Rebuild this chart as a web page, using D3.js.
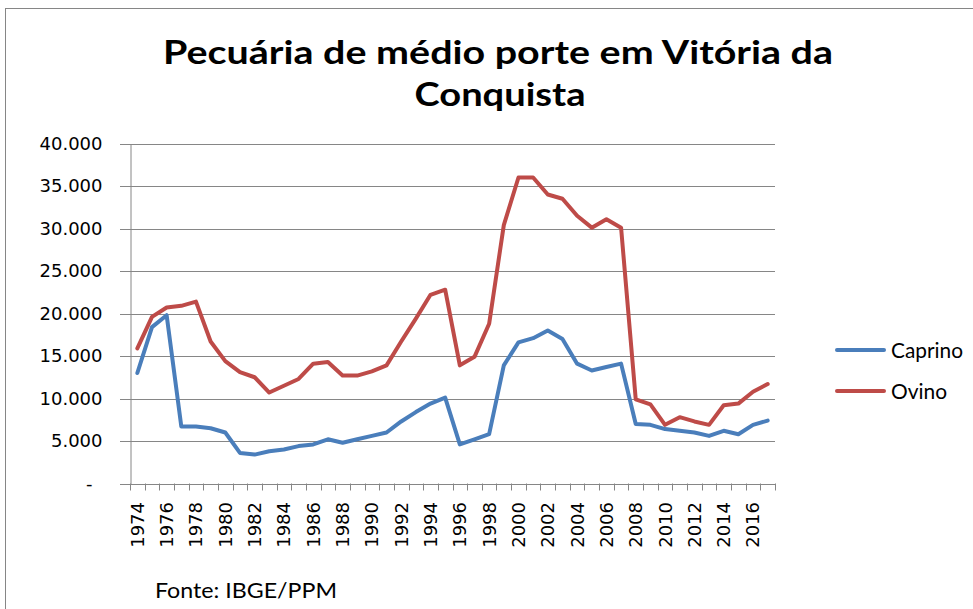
<!DOCTYPE html>
<html><head><meta charset="utf-8">
<script src="https://cdn.jsdelivr.net/npm/d3@7/dist/d3.min.js"></script>
<style>body{margin:0;background:#fff}svg{display:block}</style>
</head><body>
<svg id="c" width="973" height="609"></svg>
<script>
const years = d3.range(1974, 2018);
const caprino = [13000,18400,19800,6700,6700,6500,6000,3600,3400,3800,4000,4400,4600,5200,4800,5200,5600,6000,7300,8400,9400,10100,4600,5200,5800,13900,16600,17100,18000,17000,14100,13300,13700,14100,7000,6900,6400,6200,6000,5600,6200,5800,6900,7400];
const ovino = [15900,19600,20700,20900,21400,16700,14400,13100,12500,10700,11500,12300,14100,14300,12700,12700,13200,13900,16700,19400,22200,22800,13900,14900,18800,30400,36000,36000,34000,33500,31500,30100,31100,30100,9900,9300,6900,7800,7300,6900,9200,9400,10800,11700];
const yTicks = [0,5000,10000,15000,20000,25000,30000,35000,40000];
const seriesNames = ["Caprino","Ovino"];
const colors = ["#4A7EBB","#BE4B48"];

const svg = d3.select("#c");
const font = "Lato, 'Open Sans', 'Liberation Sans', sans-serif";
const tickFont = "'DejaVu Sans', Verdana, sans-serif";

// outer border
svg.append("rect").attr("x",5.5).attr("y",8.5).attr("width",1000).attr("height",700)
  .attr("fill","#fff").attr("stroke","#868686").attr("stroke-width",1);

const L=130, R=775, T=143.5, B=483.5;
const x = d3.scaleBand().domain(years).range([L,R]);
const y = d3.scaleLinear().domain([0,40000]).range([B,T]);

// gridlines
svg.append("g").selectAll("line").data(yTicks).join("line")
  .attr("x1",L-10).attr("x2",R).attr("y1",d=>Math.round(y(d))+0.5).attr("y2",d=>Math.round(y(d))+0.5)
  .attr("stroke","#868686").attr("stroke-width",1);

// y axis
const yAx = svg.append("g").attr("transform",`translate(${L+0.5},0)`)
  .call(d3.axisLeft(y).tickValues(yTicks).tickSize(0).tickPadding(28)
    .tickFormat(d=> d===0 ? "-" : d3.format(",")(d).replace(/,/g,".")));
yAx.select(".domain").attr("stroke","#868686");
yAx.selectAll("text").attr("font-family",tickFont).attr("font-size",18).attr("fill","#000");
yAx.selectAll(".tick text").filter(d=>d===0).attr("dx",-10);

// x axis
const xAx = svg.append("g").attr("transform",`translate(0,${B+0.5})`)
  .call(d3.axisBottom(x).tickValues(years.filter(d=>d%2===0)).tickSize(0).tickFormat(d=>d));
xAx.select(".domain").attr("stroke","#868686");
xAx.selectAll(".tick text").attr("font-family",tickFont).attr("font-size",18).attr("fill","#000")
  .attr("transform","rotate(-90)").attr("text-anchor","end").attr("x",-18).attr("y",0).attr("dy","0.36em");
// tick marks between categories
svg.append("g").selectAll("line").data(d3.range(years.length+1)).join("line")
  .attr("x1",i=>Math.round(L+i*x.step())+0.5).attr("x2",i=>Math.round(L+i*x.step())+0.5)
  .attr("y1",B).attr("y2",B+7).attr("stroke","#868686");

// lines
const data = [caprino, ovino];
const line = d3.line().x((d,i)=>x(years[i])+x.bandwidth()/2).y(d=>y(d));
data.forEach((s,k)=>{
  svg.append("path").datum(s).attr("d",line).attr("fill","none")
    .attr("stroke",colors[k]).attr("stroke-width",4).attr("stroke-linejoin","round").attr("stroke-linecap","round");
});

// legend
const leg = svg.append("g");
const legLen = [72,56];
seriesNames.forEach((n,k)=>{
  const ly = [350,391][k];
  leg.append("line").attr("x1",837).attr("x2",884).attr("y1",ly).attr("y2",ly)
    .attr("stroke",colors[k]).attr("stroke-width",4).attr("stroke-linecap","round");
  leg.append("text").attr("x",891).attr("y",ly+7.5).text(n)
    .attr("font-family",font).attr("font-size",21).attr("fill","#000")
    .attr("textLength",legLen[k]).attr("lengthAdjust","spacingAndGlyphs");
});

// title
svg.append("text").attr("x",498).attr("y",64).attr("text-anchor","middle")
  .attr("font-family",font).attr("font-weight","bold").attr("font-size",33)
  .attr("textLength",670).attr("lengthAdjust","spacingAndGlyphs")
  .text("Pecuária de médio porte em Vitória da");
svg.append("text").attr("x",500).attr("y",106).attr("text-anchor","middle")
  .attr("font-family",font).attr("font-weight","bold").attr("font-size",33)
  .attr("textLength",171).attr("lengthAdjust","spacingAndGlyphs")
  .text("Conquista");

// source
svg.append("text").attr("x",155).attr("y",598).attr("font-family",font).attr("font-size",21)
  .attr("fill","#000").attr("textLength",182).attr("lengthAdjust","spacingAndGlyphs").text("Fonte: IBGE/PPM");
</script>
</body></html>
